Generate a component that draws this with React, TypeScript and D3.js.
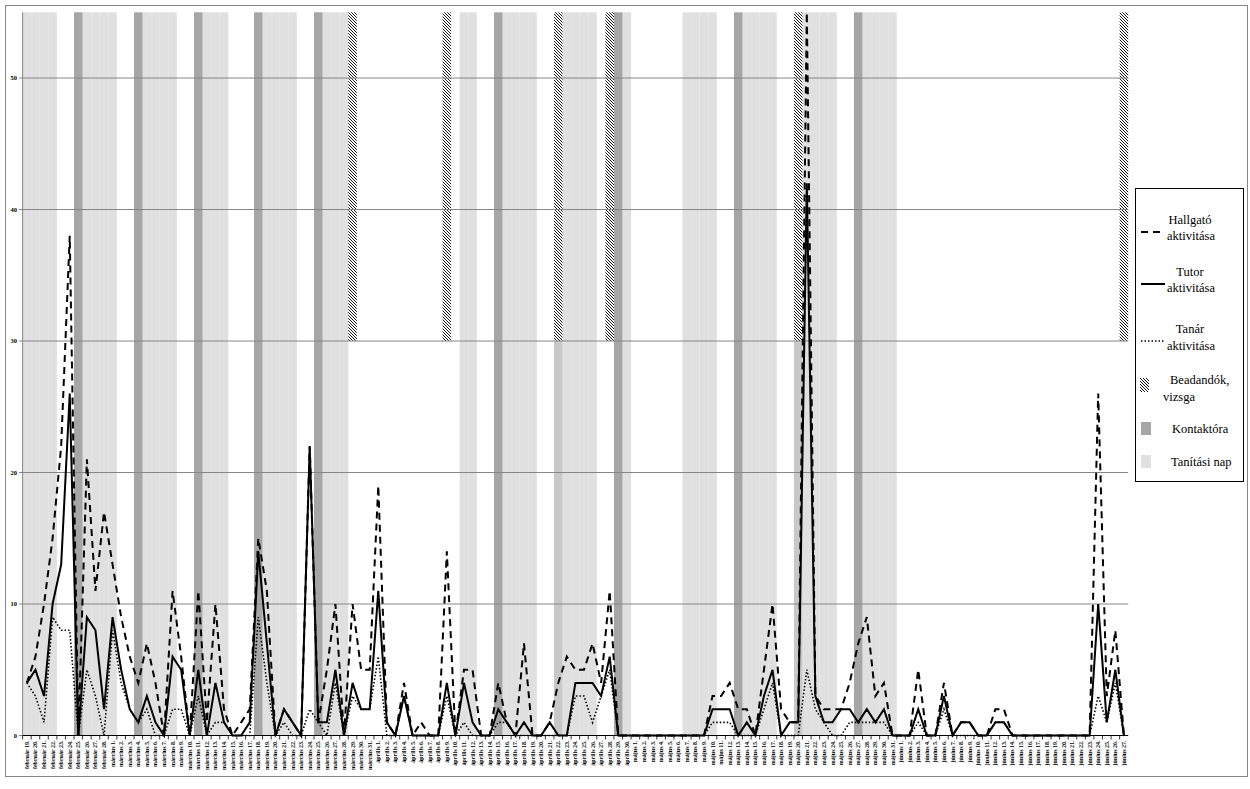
import React from "react";
import * as d3 from "d3";

// ---- categories (days) ----
const monthRanges: [string, number, number][] = [
  ["február", 19, 28],
  ["március", 1, 31],
  ["április", 1, 30],
  ["május", 1, 31],
  ["június", 1, 27],
];
const days: string[] = [];
monthRanges.forEach(([m, a, b]) => {
  for (let d = a; d <= b; d++) days.push(`${m} ${d}.`);
});

// ---- series values (one per day) ----
const hallgato: number[] = [
  4, 6, 10, 15, 22, 38, 0, 21, 11, 17,
  13, 9, 6, 4, 7, 4, 0, 11, 6, 0,
  11, 1, 10, 2, 0, 1, 2, 15, 11, 0,
  2, 1, 0, 22, 1, 5, 10, 0, 10, 5,
  5, 19, 1, 0, 4, 0, 1, 0, 0, 14,
  0, 5, 5, 0, 0, 4, 1, 0, 7, 0,
  0, 1, 4, 6, 5, 5, 7, 4, 11, 0,
  0, 0, 0, 0, 0, 0, 0, 0, 0, 0,
  3, 3, 4, 2, 2, 0, 5, 10, 2, 1,
  1, 55, 3, 2, 2, 2, 4, 7, 9, 3,
  4, 0, 0, 0, 5, 0, 0, 4, 0, 1,
  1, 0, 0, 2, 2, 0, 0, 0, 0, 0,
  0, 0, 0, 0, 0, 26, 3, 8, 0,
];
const tutor: number[] = [
  4, 5, 3, 10, 13, 26, 0, 9, 8, 2,
  9, 5, 2, 1, 3, 1, 0, 6, 5, 0,
  5, 0, 4, 1, 0, 0, 1, 14, 7, 0,
  2, 1, 0, 22, 1, 1, 5, 0, 4, 2,
  2, 11, 1, 0, 3, 0, 0, 0, 0, 4,
  0, 4, 1, 0, 0, 2, 1, 0, 1, 0,
  0, 1, 0, 0, 4, 4, 4, 3, 6, 0,
  0, 0, 0, 0, 0, 0, 0, 0, 0, 0,
  2, 2, 2, 0, 1, 0, 3, 5, 0, 1,
  1, 42, 3, 1, 1, 2, 2, 1, 2, 1,
  2, 0, 0, 0, 2, 0, 0, 3, 0, 1,
  1, 0, 0, 1, 1, 0, 0, 0, 0, 0,
  0, 0, 0, 0, 0, 10, 1, 5, 0,
];
const tanar: number[] = [
  4, 3, 1, 9, 8, 8, 0, 5, 3, 0,
  8, 4, 2, 1, 2, 0, 0, 2, 2, 0,
  3, 0, 1, 1, 0, 0, 0, 9, 4, 0,
  1, 0, 0, 2, 1, 0, 4, 0, 3, 2,
  2, 6, 0, 0, 3, 0, 0, 0, 0, 3,
  0, 1, 0, 0, 0, 1, 1, 0, 0, 0,
  0, 0, 0, 0, 3, 3, 1, 3, 5, 0,
  0, 0, 0, 0, 0, 0, 0, 0, 0, 0,
  1, 1, 1, 0, 0, 0, 2, 4, 0, 0,
  0, 5, 2, 1, 0, 0, 1, 1, 1, 1,
  1, 0, 0, 0, 1, 0, 0, 2, 0, 0,
  0, 0, 0, 1, 1, 0, 0, 0, 0, 0,
  0, 0, 0, 0, 0, 3, 1, 4, 0,
];

// ---- background day types ----
const tanitasiNap: string[] = [
  "február 19.", "február 20.", "február 21.", "február 22.",
  "február 26.", "február 27.", "február 28.", "március 1.",
  "március 5.", "március 6.", "március 7.", "március 8.",
  "március 12.", "március 13.", "március 14.",
  "március 19.", "március 20.", "március 21.", "március 22.",
  "március 26.", "március 27.", "március 28.",
  "április 11.", "április 12.",
  "április 16.", "április 17.", "április 18.", "április 19.",
  "április 23.", "április 24.", "április 25.", "április 26.",
  "április 30.",
  "május 7.", "május 8.", "május 9.", "május 10.",
  "május 14.", "május 15.", "május 16.", "május 17.",
  "május 21.", "május 22.", "május 23.", "május 24.",
  "május 28.", "május 29.", "május 30.", "május 31.",
];
const kontaktora: string[] = [
  "február 25.", "március 4.", "március 11.", "március 18.", "március 25.",
  "április 15.", "április 29.", "május 13.", "május 27.",
];
const kontaktVizsga: string[] = ["április 22.", "május 20."];
const beadandok: string[] = [
  "március 29.", "április 9.", "április 22.", "április 28.", "május 20.", "június 27.",
];

const yTicks = [0, 10, 20, 30, 40, 50];
const yMax = 55;
const beadandoBase = 30;

export default function App() {
  const W = 1250, H = 789;
  const x = d3.scaleBand<string>().domain(days).range([22.6, 1128.2]).padding(0);
  const y = d3.scaleLinear().domain([0, yMax]).range([735.5, 12.3]);
  const bw = x.bandwidth();
  const cx = (d: string) => (x(d) as number) + bw / 2;

  const line = d3
    .line<number>()
    .x((_, i) => cx(days[i]))
    .y((v) => y(v));

  const serif = "'Liberation Serif', 'DejaVu Serif', serif";

  return (
    <svg
      width={W}
      height={H}
      style={{ position: "absolute", left: 0, top: 0, background: "#fff" }}
      fontFamily={serif}
    >
      <defs>
        <pattern id="hatch" patternUnits="userSpaceOnUse" width="3" height="3">
          <rect width="3" height="3" fill="#fff" />
          <path d="M-1,-1 L4,4 M-1,2 L1,4 M2,-1 L4,1" stroke="#000" strokeWidth="0.9" />
        </pattern>
      </defs>
      {/* outer frame */}
      <rect x={5.5} y={5.5} width={1242} height={771} fill="#fff" stroke="#868686" strokeWidth={1} />

      {/* background bars */}
      {tanitasiNap.map((d) => (
        <rect key={"t" + d} x={x(d)} y={y(yMax)} width={bw} height={y(0) - y(yMax)} fill="#e0e0e0" />
      ))}
      {kontaktora.map((d) => (
        <rect key={"k" + d} x={x(d)} y={y(yMax)} width={bw} height={y(0) - y(yMax)} fill="#a6a6a6" />
      ))}
      {kontaktVizsga.map((d) => (
        <rect key={"kv" + d} x={x(d)} y={y(beadandoBase)} width={bw} height={y(0) - y(beadandoBase)} fill="#c8c8c8" />
      ))}
      {beadandok.map((d) => (
        <rect key={"b" + d} x={x(d)} y={y(yMax)} width={bw} height={y(beadandoBase) - y(yMax)} fill="url(#hatch)" />
      ))}

      {/* gridlines */}
      {yTicks.filter((t) => t > 0).map((t) => (
        <line key={"g" + t} x1={22.6} x2={1128.2} y1={y(t)} y2={y(t)} stroke="#868686" strokeWidth={1} />
      ))}

      {/* y axis */}
      <line x1={22.6} x2={22.6} y1={y(yMax)} y2={y(0)} stroke="#868686" strokeWidth={1} />
      {yTicks.map((t) => (
        <g key={"yt" + t}>
          <line x1={19} x2={22.6} y1={y(t)} y2={y(t)} stroke="#868686" />
          <text x={17} y={y(t) + 2.2} fontSize={6.5} fontWeight="bold" textAnchor="end" fill="#000">
            {t}
          </text>
        </g>
      ))}

      {/* lines */}
      <path d={line(tanar) || ""} fill="none" stroke="#000" strokeWidth={1.6} strokeDasharray="1.5,2" />
      <path d={line(tutor) || ""} fill="none" stroke="#000" strokeWidth={2} />
      <path d={line(hallgato) || ""} fill="none" stroke="#000" strokeWidth={2} strokeDasharray="7,5" />

      {/* x axis */}
      <line x1={22.6} x2={1128.2} y1={y(0)} y2={y(0)} stroke="#000" strokeWidth={1} />
      {days.map((d) => (
        <line key={"xt" + d} x1={x(d)} x2={x(d)} y1={y(0)} y2={y(0) + 4} stroke="#000" strokeWidth={0.8} />
      ))}
      {days.map((d) => (
        <text
          key={"xl" + d}
          transform={`translate(${cx(d) + 2},${y(0) + 5}) rotate(-90)`}
          fontSize={6}
          fontWeight="bold"
          textAnchor="end"
          fill="#000"
        >
          {d}
        </text>
      ))}

      {/* legend */}
      <rect x={1135.5} y={188.5} width={108} height={293} fill="#fff" stroke="#000" strokeWidth={1} />
      <line x1={1141} x2={1165} y1={232} y2={232} stroke="#000" strokeWidth={2} strokeDasharray="7,5" />
      <text x={1190} y={224} fontSize={12.5} textAnchor="middle">Hallgató</text>
      <text x={1191} y={240} fontSize={12.5} textAnchor="middle">aktivitása</text>

      <line x1={1141} x2={1165} y1={284} y2={284} stroke="#000" strokeWidth={2} />
      <text x={1190} y={276} fontSize={12.5} textAnchor="middle">Tutor</text>
      <text x={1191} y={292} fontSize={12.5} textAnchor="middle">aktivitása</text>

      <line x1={1141} x2={1165} y1={341} y2={341} stroke="#000" strokeWidth={1.6} strokeDasharray="1.5,2" />
      <text x={1190} y={333} fontSize={12.5} textAnchor="middle">Tanár</text>
      <text x={1191} y={350} fontSize={12.5} textAnchor="middle">aktivitása</text>

      <rect x={1140} y={378} width={9} height={14} fill="url(#hatch)" />
      <text x={1170} y={384} fontSize={12.5}>Beadandók,</text>
      <text x={1163} y={401} fontSize={12.5}>vizsga</text>

      <rect x={1141} y={422} width={10} height={13} fill="#a6a6a6" />
      <text x={1172} y={433} fontSize={12.5}>Kontaktóra</text>

      <rect x={1141} y={455} width={10} height={13} fill="#e0e0e0" />
      <text x={1171} y={466} fontSize={12.5}>Tanítási nap</text>
    </svg>
  );
}
